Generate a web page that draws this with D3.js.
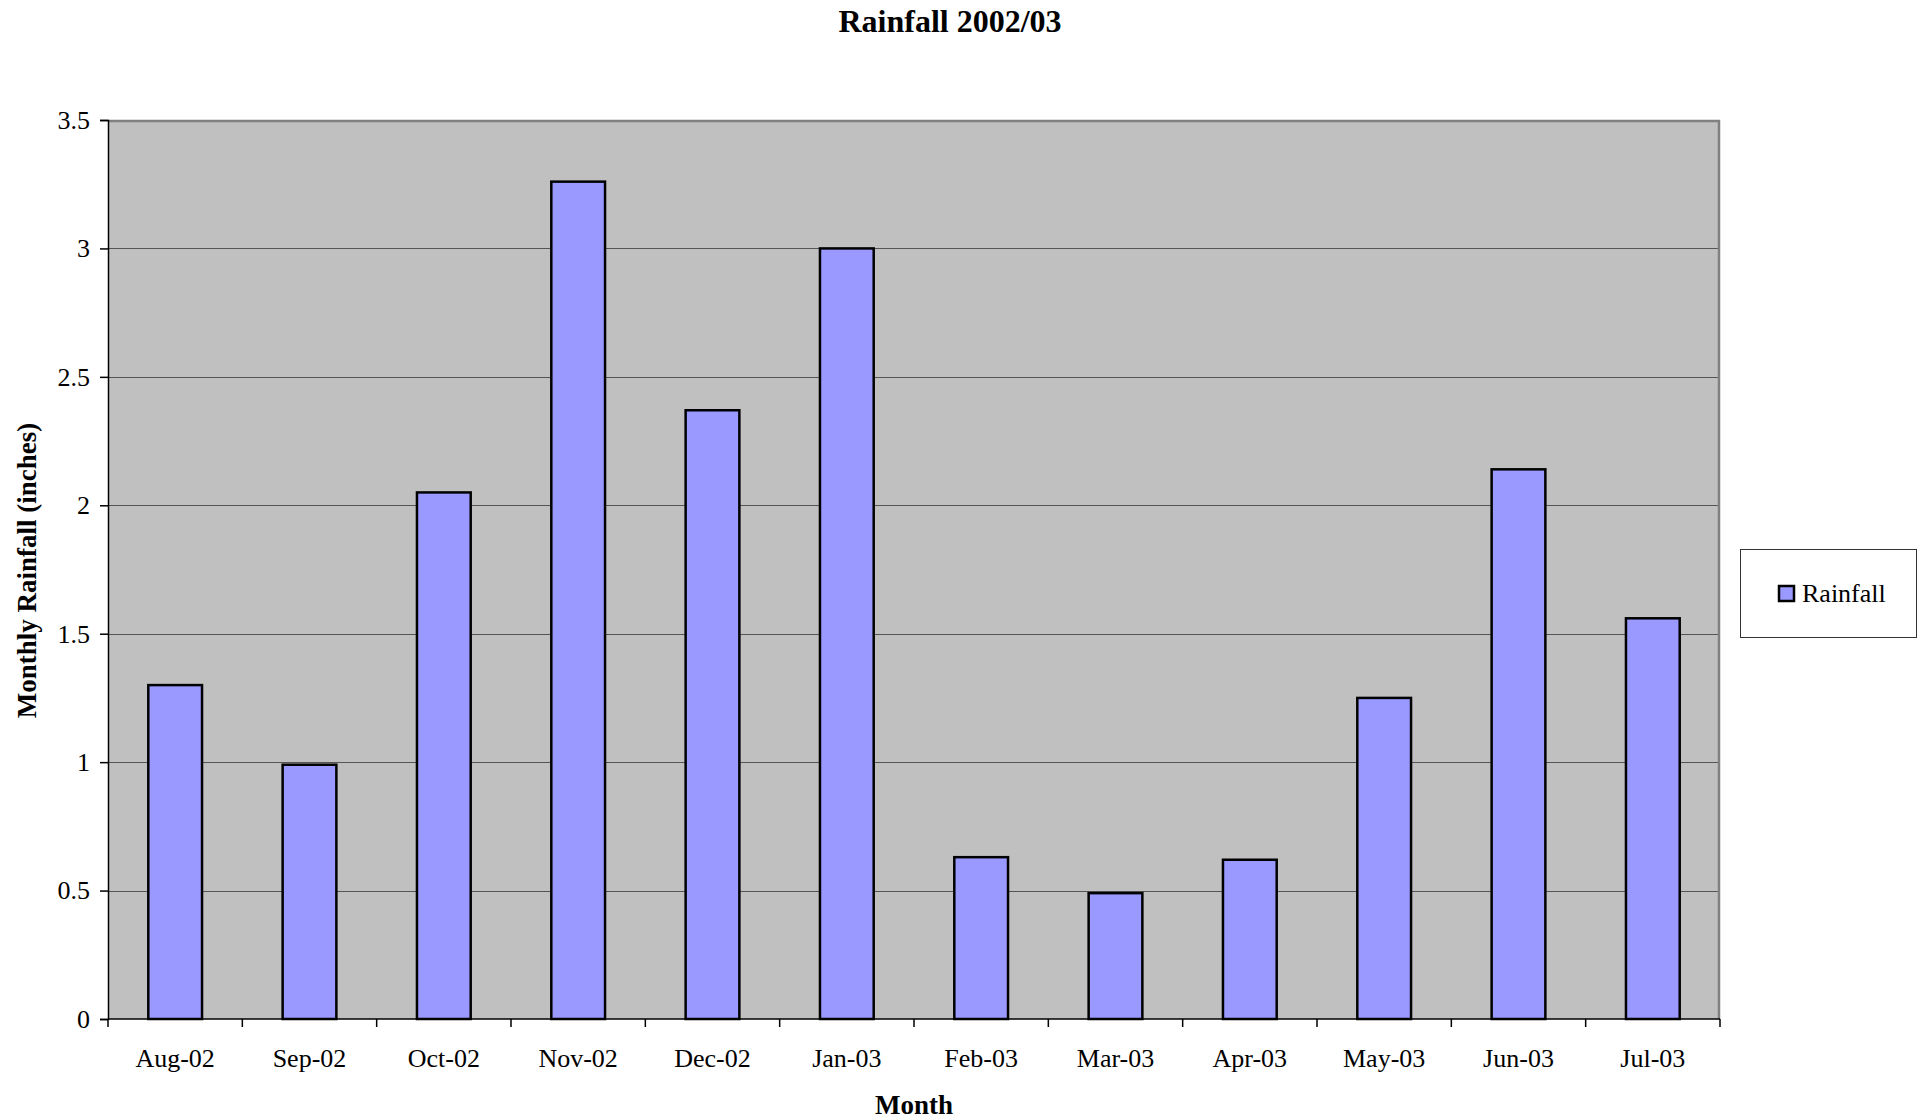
<!DOCTYPE html>
<html>
<head>
<meta charset="utf-8">
<script src="https://cdn.jsdelivr.net/npm/d3@7"></script>
<style>
  html, body { margin: 0; padding: 0; background: #fff; }
  svg { display: block; font-family: "Liberation Serif", "Times New Roman", serif; }
</style>
</head>
<body>
<svg id="chart" width="1925" height="1119"></svg>
<script>
// Monthly rainfall, Aug 2002 – Jul 2003 (inches)
const months = ["Aug-02", "Sep-02", "Oct-02", "Nov-02", "Dec-02", "Jan-03",
                "Feb-03", "Mar-03", "Apr-03", "May-03", "Jun-03", "Jul-03"];
const rainfall = [1.30, 0.99, 2.05, 3.26, 2.37, 3.00, 0.63, 0.49, 0.62, 1.25, 2.14, 1.56];
const yTicks = [0, 0.5, 1, 1.5, 2, 2.5, 3, 3.5];
const seriesName = "Rainfall";

const svg = d3.select("#chart");
const plot = { left: 108, right: 1720, top: 120, bottom: 1019 };

const x = d3.scaleBand().domain(months).range([plot.left, plot.right]).paddingInner(0).paddingOuter(0);
const y = d3.scaleLinear().domain([0, 3.5]).range([plot.bottom, plot.top]);

// plot background
svg.append("rect")
  .attr("x", plot.left).attr("y", plot.top)
  .attr("width", plot.right - plot.left).attr("height", plot.bottom - plot.top)
  .attr("fill", "#c0c0c0");

// horizontal gridlines
svg.append("g").selectAll("line").data(yTicks.filter(d => d > 0 && d < 3.5)).join("line")
  .attr("x1", plot.left).attr("x2", plot.right)
  .attr("y1", d => Math.round(y(d)) + 0.5).attr("y2", d => Math.round(y(d)) + 0.5)
  .attr("stroke", "#555").attr("stroke-width", 1);

// plot border (top and right)
svg.append("path")
  .attr("d", `M${plot.left},${plot.top + 1}H${plot.right - 1}V${plot.bottom}`)
  .attr("fill", "none").attr("stroke", "#808080").attr("stroke-width", 2.5);

// bars
const bw = x.bandwidth() * 0.4;
svg.append("g").selectAll("rect").data(months).join("rect")
  .attr("x", (d) => x(d) + (x.bandwidth() - bw) / 2)
  .attr("y", (d, i) => y(rainfall[i]))
  .attr("width", bw)
  .attr("height", (d, i) => y(0) - y(rainfall[i]))
  .attr("fill", "#9999ff")
  .attr("stroke", "#000").attr("stroke-width", 2.5);

// y axis
const yAxis = d3.axisLeft(y).tickValues(yTicks).tickSize(8).tickPadding(10)
  .tickFormat(d => d3.format("")(d));
const gy = svg.append("g").attr("transform", `translate(${plot.left},0)`).call(yAxis);
gy.select(".domain").attr("stroke", "#000").attr("stroke-width", 1.5);
gy.selectAll(".tick line").attr("stroke", "#000").attr("stroke-width", 1.5);
gy.selectAll(".tick text").attr("font-size", 26).attr("fill", "#000")
  .attr("font-family", "Liberation Serif");

// x axis: ticks sit on category boundaries
const boundaries = d3.range(months.length + 1).map(i => plot.left + i * x.step());
const gx = svg.append("g");
gx.append("line")
  .attr("x1", plot.left).attr("x2", plot.right)
  .attr("y1", plot.bottom).attr("y2", plot.bottom)
  .attr("stroke", "#000").attr("stroke-width", 1.5);
gx.selectAll("line.tk").data(boundaries).join("line").attr("class", "tk")
  .attr("x1", d => d).attr("x2", d => d)
  .attr("y1", plot.bottom).attr("y2", plot.bottom + 8)
  .attr("stroke", "#000").attr("stroke-width", 1.5);
gx.selectAll("text").data(months).join("text")
  .attr("x", d => x(d) + x.bandwidth() / 2)
  .attr("y", 1067)
  .attr("text-anchor", "middle")
  .attr("font-size", 26)
  .text(d => d);

// titles
svg.append("text").attr("x", 950).attr("y", 32).attr("text-anchor", "middle")
  .attr("font-size", 32).attr("font-weight", "bold").text("Rainfall 2002/03");
svg.append("text").attr("x", (plot.left + plot.right) / 2).attr("y", 1114)
  .attr("text-anchor", "middle").attr("font-size", 27).attr("font-weight", "bold").text("Month");
svg.append("text").attr("transform", `translate(36,${(plot.top + plot.bottom) / 2 + 1}) rotate(-90)`)
  .attr("text-anchor", "middle").attr("font-size", 27).attr("font-weight", "bold")
  .text("Monthly Rainfall (inches)");

// legend
const lg = svg.append("g");
lg.append("rect").attr("x", 1740.5).attr("y", 549.5).attr("width", 176).attr("height", 88)
  .attr("fill", "#fff").attr("stroke", "#333").attr("stroke-width", 1);
lg.append("rect").attr("x", 1779).attr("y", 586).attr("width", 15).attr("height", 15)
  .attr("fill", "#9999ff").attr("stroke", "#000").attr("stroke-width", 2.5);
lg.append("text").attr("x", 1802).attr("y", 602).attr("font-size", 26).text(seriesName);
</script>
</body>
</html>
